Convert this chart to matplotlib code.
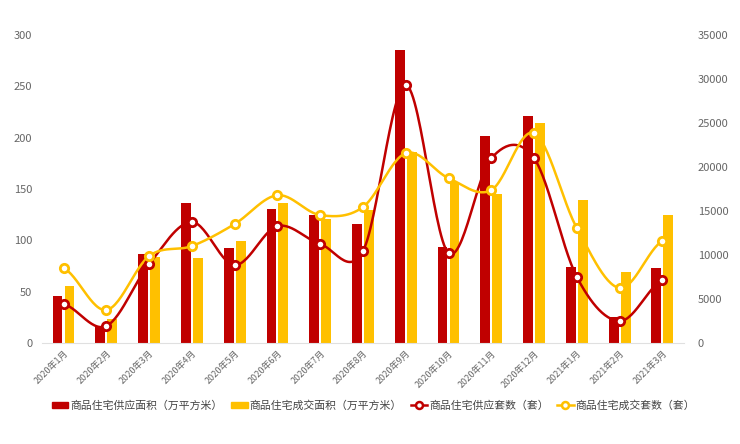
import numpy as np
import matplotlib
matplotlib.use('Agg')
import matplotlib.pyplot as plt
from matplotlib.patches import Patch
from matplotlib.lines import Line2D

plt.rcParams['font.family'] = ['Noto Sans CJK SC', 'DejaVu Sans']

# 数据
months = ['2020年1月', '2020年2月', '2020年3月', '2020年4月', '2020年5月', '2020年6月',
          '2020年7月', '2020年8月', '2020年9月', '2020年10月', '2020年11月', '2020年12月',
          '2021年1月', '2021年2月', '2021年3月']
supply_area = [46, 17, 87, 136, 93, 131, 125, 116, 285, 94, 202, 221, 74, 25, 73]
deal_area = [56, 23, 84, 83, 99, 136, 121, 130, 186, 157, 145, 214, 139, 69, 125]
supply_units = [4430, 1930, 8980, 13750, 8860, 13290, 11250, 10450, 29300, 10220,
                21000, 21000, 7500, 2500, 7150]
deal_units = [8520, 3750, 9880, 11020, 13520, 16800, 14540, 15450, 21580, 18740,
              17380, 23860, 13060, 6250, 11590]

red = '#C00000'
yellow = '#FFC000'
grey = '#666666'


def smooth(x, y, n=30):
    # Catmull-Rom 曲线，只用于画平滑线
    x = np.asarray(x, float)
    y = np.asarray(y, float)
    px = np.concatenate([[2 * x[0] - x[1]], x, [2 * x[-1] - x[-2]]])
    py = np.concatenate([[y[0]], y, [y[-1]]])
    xs, ys = [], []
    t = np.linspace(0, 1, n)
    for i in range(1, len(px) - 2):
        for p, out in ((px, xs), (py, ys)):
            p0, p1, p2, p3 = p[i - 1], p[i], p[i + 1], p[i + 2]
            m1 = (p2 - p0) / 2
            m2 = (p3 - p1) / 2
            h00 = 2 * t**3 - 3 * t**2 + 1
            h10 = t**3 - 2 * t**2 + t
            h01 = -2 * t**3 + 3 * t**2
            h11 = t**3 - t**2
            out.append(h00 * p1 + h10 * m1 + h01 * p2 + h11 * m2)
    return np.concatenate(xs), np.concatenate(ys)


fig = plt.figure(figsize=(7.4, 4.44), dpi=100)
ax = fig.add_axes([0.057, 0.2275, 0.867, 0.6935])
ax2 = ax.twinx()

x = np.arange(len(months))
w = 0.23
ax.bar(x - 0.14, supply_area, w, color=red, zorder=2)
ax.bar(x + 0.14, deal_area, w, color=yellow, zorder=2)

ax.set_xlim(-0.5, len(months) - 0.5)
ax.set_ylim(0, 300)
ax.set_yticks(range(0, 301, 50))
ax2.set_ylim(0, 35000)
ax2.set_yticks(range(0, 35001, 5000))

for yy, c in ((supply_units, red), (deal_units, yellow)):
    sx, sy = smooth(x, yy)
    ax2.plot(sx, sy, color=c, lw=1.8, zorder=3)
    ax2.plot(x, yy, 'o', ms=6, mfc='white', mec=c, mew=2, zorder=4)

ax.set_xticks(x)
ax.set_xticklabels(months, rotation=45, ha='right', rotation_mode='anchor',
                   fontsize=6.5, color=grey)
for a in (ax, ax2):
    for s in a.spines.values():
        s.set_visible(False)
    a.tick_params(length=0, labelsize=8, labelcolor=grey)
ax.spines['bottom'].set_visible(True)
ax.spines['bottom'].set_color('#e0e0e0')
ax.tick_params(axis='y', pad=7)
ax.tick_params(axis='x', pad=4, labelsize=6.5)
ax2.tick_params(axis='y', pad=10)

handles = [Patch(color=red), Patch(color=yellow),
           Line2D([], [], color=red, lw=1.8, marker='o', ms=5, mfc='white', mec=red, mew=1.8),
           Line2D([], [], color=yellow, lw=1.8, marker='o', ms=5, mfc='white', mec=yellow, mew=1.8)]
labels = ['商品住宅供应面积（万平方米）', '商品住宅成交面积（万平方米）',
          '商品住宅供应套数（套）', '商品住宅成交套数（套）']
fig.legend(handles, labels, loc='center', bbox_to_anchor=(0.505, 0.087), ncol=4,
           frameon=False, fontsize=7.8, labelcolor='#444444', handlelength=1.5,
           handleheight=0.5, handletextpad=0.2, columnspacing=0.8)

fig.savefig('out.png', dpi=100)
